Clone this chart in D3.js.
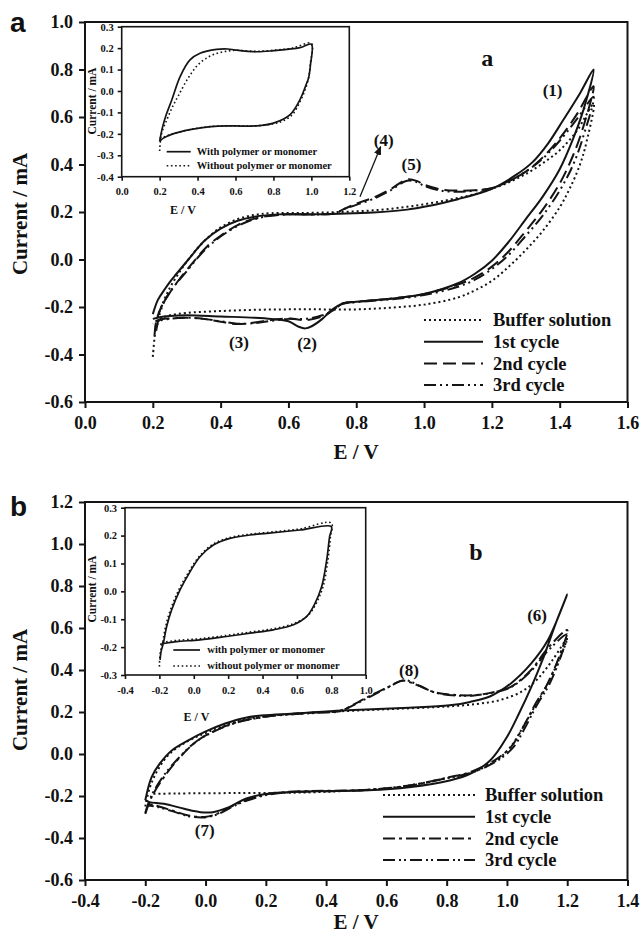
<!DOCTYPE html>
<html><head><meta charset="utf-8">
<script src="https://cdnjs.cloudflare.com/ajax/libs/d3/7.8.5/d3.min.js"></script>
<style>
body{margin:0;background:#fff;}
svg{display:block;}
text{font-family:"Liberation Serif","Times New Roman",serif;font-weight:bold;fill:#111;}
text.panel{font-family:"Liberation Sans",Arial,sans-serif;}
</style></head><body>
<svg id="chart" width="641" height="937"></svg>
<script>
// ---------- tick values ----------
const aXTicks = [0, 0.2, 0.4, 0.6, 0.8, 1.0, 1.2, 1.4, 1.6];
const aYTicks = [-0.6, -0.4, -0.2, 0, 0.2, 0.4, 0.6, 0.8, 1.0];
const bXTicks = [-0.4, -0.2, 0, 0.2, 0.4, 0.6, 0.8, 1.0, 1.2, 1.4];
const bYTicks = [-0.6, -0.4, -0.2, 0, 0.2, 0.4, 0.6, 0.8, 1.0, 1.2];
const iaXTicks = [0, 0.2, 0.4, 0.6, 0.8, 1.0, 1.2];
const iaYTicks = [-0.4, -0.3, -0.2, -0.1, 0, 0.1, 0.2, 0.3];
const ibXTicks = [-0.4, -0.2, 0, 0.2, 0.4, 0.6, 0.8, 1.0];
const ibYTicks = [-0.3, -0.2, -0.1, 0, 0.1, 0.2, 0.3];

// ---------- legend labels ----------
const mainLegend = ["Buffer solution", "1st cycle", "2nd cycle", "3rd cycle"];
const insetALegend = ["With polymer or monomer", "Without polymer or monomer"];
const insetBLegend = ["with polymer or monomer", "without polymer or monomer"];

// ---------- panel a : [E (V), I (mA)] ----------
const aBuffer = [[0.2,-0.41],[0.205,-0.33],[0.21,-0.27],[0.225,-0.2],[0.25,-0.12],[0.28,-0.05],[0.31,0.01],[0.35,0.075],[0.4,0.135],[0.45,0.17],[0.5,0.188],[0.55,0.195],[0.65,0.196],[0.75,0.2],[0.85,0.207],[0.95,0.222],[1.05,0.245],[1.15,0.275],[1.2,0.298],[1.25,0.325],[1.3,0.36],[1.35,0.405],[1.4,0.46],[1.45,0.54],[1.5,0.655],
  [1.48,0.5],[1.46,0.4],[1.43,0.3],[1.4,0.22],[1.35,0.12],[1.3,0.04],[1.25,-0.03],[1.2,-0.09],[1.15,-0.13],[1.1,-0.16],[1.0,-0.19],[0.9,-0.203],[0.8,-0.21],[0.7,-0.21],[0.6,-0.21],[0.5,-0.212],[0.4,-0.217],[0.3,-0.225],[0.25,-0.235],[0.22,-0.25],[0.2,-0.27]];
const aCycle1 = [[0.2,-0.23],[0.215,-0.17],[0.233,-0.13],[0.25,-0.095],[0.27,-0.06],[0.305,0.0],[0.353,0.08],[0.4,0.13],[0.45,0.163],[0.5,0.18],[0.57,0.19],[0.65,0.19],[0.75,0.193],[0.85,0.198],[0.95,0.21],[1.0,0.222],[1.1,0.254],[1.2,0.298],[1.27,0.355],[1.32,0.41],[1.365,0.487],[1.41,0.586],[1.46,0.7],[1.5,0.8],
  [1.47,0.63],[1.44,0.51],[1.4,0.38],[1.35,0.265],[1.3,0.17],[1.25,0.075],[1.2,-0.005],[1.15,-0.06],[1.1,-0.1],[1.0,-0.145],[0.9,-0.165],[0.8,-0.178],[0.76,-0.185],[0.73,-0.21],[0.7,-0.25],[0.67,-0.28],[0.65,-0.29],[0.63,-0.283],[0.6,-0.26],[0.55,-0.25],[0.5,-0.245],[0.4,-0.24],[0.3,-0.235],[0.25,-0.238],[0.22,-0.243],[0.2,-0.25]];
const aCycle2 = [[0.205,-0.32],[0.21,-0.26],[0.225,-0.2],[0.25,-0.14],[0.28,-0.08],[0.32,-0.01],[0.36,0.055],[0.4,0.1],[0.45,0.145],[0.5,0.172],[0.55,0.185],[0.6,0.19],[0.7,0.19],[0.74,0.195],[0.76,0.21],[0.8,0.235],[0.85,0.26],[0.9,0.295],[0.95,0.337],[0.98,0.33],[1.0,0.315],[1.05,0.295],[1.1,0.29],[1.15,0.292],[1.2,0.3],[1.25,0.33],[1.3,0.37],[1.35,0.43],[1.4,0.51],[1.45,0.61],[1.5,0.73],
  [1.47,0.56],[1.44,0.44],[1.4,0.32],[1.35,0.21],[1.3,0.12],[1.25,0.035],[1.2,-0.03],[1.15,-0.075],[1.1,-0.105],[1.0,-0.145],[0.9,-0.165],[0.8,-0.178],[0.76,-0.185],[0.73,-0.215],[0.7,-0.24],[0.65,-0.255],[0.6,-0.248],[0.55,-0.255],[0.5,-0.265],[0.45,-0.272],[0.4,-0.262],[0.35,-0.25],[0.3,-0.245],[0.25,-0.248],[0.22,-0.255],[0.205,-0.28]];
const aCycle3 = [[0.21,-0.3],[0.22,-0.23],[0.24,-0.16],[0.27,-0.1],[0.3,-0.05],[0.34,0.02],[0.38,0.075],[0.43,0.125],[0.48,0.16],[0.53,0.18],[0.6,0.19],[0.7,0.19],[0.74,0.195],[0.76,0.21],[0.8,0.23],[0.85,0.255],[0.9,0.29],[0.95,0.332],[0.98,0.325],[1.0,0.31],[1.05,0.29],[1.1,0.285],[1.15,0.29],[1.2,0.3],[1.25,0.33],[1.3,0.37],[1.35,0.425],[1.4,0.5],[1.45,0.59],[1.5,0.685],
  [1.47,0.52],[1.44,0.4],[1.4,0.29],[1.35,0.185],[1.3,0.1],[1.25,0.02],[1.2,-0.04],[1.15,-0.085],[1.1,-0.115],[1.0,-0.15],[0.9,-0.168],[0.8,-0.18],[0.76,-0.187],[0.73,-0.215],[0.7,-0.235],[0.65,-0.25],[0.6,-0.25],[0.55,-0.258],[0.5,-0.268],[0.45,-0.27],[0.4,-0.26],[0.35,-0.25],[0.3,-0.245],[0.25,-0.25],[0.22,-0.26],[0.21,-0.29]];

// inset a
const iaWith = [[0.2,-0.235],[0.215,-0.17],[0.235,-0.11],[0.264,-0.042],[0.308,0.067],[0.36,0.145],[0.413,0.176],[0.5,0.194],[0.56,0.196],[0.6,0.191],[0.712,0.183],[0.8,0.188],[0.94,0.202],[1.0,0.218],
  [0.995,0.12],[0.985,0.06],[0.975,0.036],[0.94,-0.04],[0.888,-0.11],[0.8,-0.15],[0.712,-0.163],[0.59,-0.163],[0.47,-0.166],[0.36,-0.18],[0.27,-0.2],[0.22,-0.22],[0.2,-0.235]];
const iaWithout = [[0.2,-0.28],[0.21,-0.2],[0.24,-0.13],[0.27,-0.07],[0.3,-0.02],[0.35,0.06],[0.4,0.12],[0.45,0.155],[0.5,0.175],[0.55,0.185],[0.6,0.19],[0.7,0.185],[0.8,0.19],[0.9,0.2],[1.0,0.222],
  [0.995,0.13],[0.985,0.06],[0.965,0.0],[0.94,-0.05],[0.9,-0.11],[0.85,-0.14],[0.8,-0.153],[0.7,-0.163],[0.6,-0.163],[0.47,-0.166],[0.36,-0.18],[0.27,-0.2],[0.22,-0.215],[0.2,-0.22]];

// ---------- panel b ----------
const bBuffer = [[-0.2,-0.25],[-0.185,-0.16],[-0.16,-0.08],[-0.12,0.0],[-0.06,0.06],[0.0,0.1],[0.07,0.14],[0.15,0.17],[0.25,0.187],[0.4,0.2],[0.6,0.213],[0.8,0.226],[0.9,0.238],[0.98,0.258],[1.05,0.298],[1.1,0.355],[1.15,0.445],[1.2,0.55],
  [1.17,0.44],[1.13,0.32],[1.09,0.22],[1.05,0.12],[1.01,0.03],[0.96,-0.035],[0.88,-0.09],[0.8,-0.115],[0.675,-0.15],[0.54,-0.17],[0.4,-0.18],[0.3,-0.184],[0.1,-0.186],[-0.1,-0.188],[-0.18,-0.19]];
const bCycle1 = [[-0.2,-0.22],[-0.179,-0.11],[-0.152,-0.046],[-0.111,0.018],[-0.057,0.065],[-0.003,0.105],[0.065,0.145],[0.133,0.173],[0.2,0.185],[0.336,0.196],[0.471,0.208],[0.675,0.22],[0.81,0.232],[0.878,0.248],[0.945,0.275],[1.013,0.336],[1.08,0.43],[1.135,0.54],[1.2,0.76],
  [1.162,0.622],[1.122,0.463],[1.081,0.32],[1.04,0.193],[1.0,0.081],[0.945,-0.03],[0.878,-0.094],[0.81,-0.126],[0.675,-0.158],[0.539,-0.173],[0.336,-0.178],[0.2,-0.19],[0.133,-0.213],[0.078,-0.253],[0.024,-0.277],[-0.017,-0.277],[-0.071,-0.261],[-0.138,-0.237],[-0.186,-0.229],[-0.2,-0.22]];
const bCycle2 = [[-0.2,-0.285],[-0.179,-0.205],[-0.138,-0.11],[-0.084,-0.014],[-0.03,0.06],[0.03,0.11],[0.1,0.15],[0.2,0.178],[0.3,0.192],[0.4,0.2],[0.444,0.205],[0.539,0.272],[0.607,0.32],[0.654,0.349],[0.702,0.328],[0.756,0.296],[0.837,0.28],[0.891,0.28],[0.945,0.291],[1.013,0.32],[1.08,0.4],[1.135,0.503],[1.2,0.59],
  [1.18,0.49],[1.135,0.336],[1.095,0.24],[1.054,0.129],[1.013,0.033],[0.959,-0.03],[0.878,-0.086],[0.81,-0.11],[0.675,-0.15],[0.539,-0.17],[0.268,-0.181],[0.187,-0.197],[0.105,-0.237],[0.038,-0.285],[-0.003,-0.3],[-0.057,-0.293],[-0.111,-0.269],[-0.166,-0.245],[-0.193,-0.237]];
const bCycle3 = [[-0.2,-0.28],[-0.18,-0.2],[-0.14,-0.105],[-0.09,-0.02],[-0.035,0.055],[0.025,0.105],[0.1,0.148],[0.2,0.177],[0.3,0.19],[0.4,0.198],[0.444,0.203],[0.539,0.268],[0.607,0.318],[0.66,0.352],[0.71,0.325],[0.76,0.293],[0.84,0.278],[0.891,0.279],[0.945,0.29],[1.013,0.318],[1.08,0.395],[1.135,0.49],[1.2,0.57],
  [1.18,0.47],[1.14,0.33],[1.1,0.235],[1.06,0.125],[1.02,0.03],[0.965,-0.035],[0.88,-0.09],[0.81,-0.112],[0.675,-0.152],[0.539,-0.172],[0.268,-0.183],[0.187,-0.2],[0.105,-0.24],[0.038,-0.288],[-0.003,-0.302],[-0.057,-0.296],[-0.111,-0.272],[-0.166,-0.25],[-0.195,-0.245]];

// inset b
const ibWith = [[-0.196,-0.246],[-0.19,-0.215],[-0.177,-0.186],[-0.158,-0.127],[-0.129,-0.067],[-0.08,0.005],[-0.022,0.07],[0.036,0.124],[0.114,0.166],[0.21,0.19],[0.327,0.202],[0.424,0.208],[0.618,0.22],[0.8,0.232],
  [0.79,0.196],[0.773,0.112],[0.744,0.017],[0.705,-0.043],[0.657,-0.09],[0.58,-0.12],[0.463,-0.138],[0.327,-0.15],[0.19,-0.162],[0.036,-0.174],[-0.1,-0.18],[-0.167,-0.186],[-0.196,-0.19]];
const ibWithout = [[-0.2,-0.27],[-0.195,-0.22],[-0.183,-0.19],[-0.165,-0.13],[-0.135,-0.065],[-0.085,0.008],[-0.025,0.074],[0.036,0.128],[0.114,0.17],[0.21,0.193],[0.327,0.205],[0.424,0.211],[0.618,0.224],[0.8,0.245],
  [0.795,0.196],[0.78,0.112],[0.752,0.017],[0.712,-0.043],[0.662,-0.088],[0.58,-0.116],[0.463,-0.134],[0.327,-0.146],[0.19,-0.158],[0.036,-0.17],[-0.1,-0.176],[-0.167,-0.182],[-0.19,-0.185]];

// ---------- drawing ----------
const svg = d3.select("#chart");
const INK = "#141414";
const fmt = v => (Math.abs(v) < 1e-9 ? 0 : v).toFixed(1);

svg.append("defs").append("marker")
  .attr("id", "arr").attr("viewBox", "0 0 10 10").attr("refX", 9).attr("refY", 5)
  .attr("markerWidth", 7).attr("markerHeight", 7).attr("orient", "auto")
  .append("path").attr("d", "M0,1 L10,5 L0,9 z").attr("fill", INK);

function drawSeries(g, x, y, list) {
  const line = d3.line().x(d => x(d[0])).y(d => y(d[1])).curve(d3.curveCatmullRom.alpha(0.5));
  list.forEach(s => {
    g.append("path").attr("d", line(s.data)).attr("fill", "none")
      .attr("stroke", INK).attr("stroke-width", s.w)
      .attr("stroke-dasharray", s.dash || null)
      .attr("stroke-linejoin", "round");
  });
}

function drawAxes(g, x, y, o) {
  const [x0, x1] = x.range(), [y0, y1] = y.range();
  const ax = g.append("g").attr("transform", `translate(0,${y0})`)
    .call(d3.axisBottom(x).tickValues(o.xt).tickFormat(fmt).tickSize(o.ts).tickSizeOuter(0).tickPadding(o.xpad));
  const ay = g.append("g").attr("transform", `translate(${x0},0)`)
    .call(d3.axisLeft(y).tickValues(o.yt).tickFormat(fmt).tickSize(o.ts).tickSizeOuter(0).tickPadding(o.ypad));
  [ax, ay].forEach(a => {
    a.select(".domain").remove();
    a.selectAll(".tick line").attr("stroke", INK).attr("stroke-width", o.fw);
    a.selectAll(".tick text").attr("font-size", o.fs).attr("fill", INK);
  });
  g.append("rect").attr("x", x0).attr("y", y1).attr("width", x1 - x0).attr("height", y0 - y1)
    .attr("fill", "none").attr("stroke", INK).attr("stroke-width", o.fw);
}

function legend(g, items, o) {
  items.forEach((it, i) => {
    const yy = o.y + i * o.dy;
    g.append("line").attr("x1", o.x1).attr("x2", o.x2).attr("y1", yy).attr("y2", yy)
      .attr("stroke", INK).attr("stroke-width", it.w).attr("stroke-dasharray", it.dash || null);
    g.append("text").attr("x", o.tx).attr("y", yy).attr("dy", "0.33em")
      .attr("font-size", o.fs).text(it.label);
  });
}

function label(g, x, y, pos, txt, fs) {
  g.append("text").attr("x", x(pos[0])).attr("y", y(pos[1])).attr("dy", "0.35em")
    .attr("text-anchor", "middle").attr("font-size", fs).text(txt);
}

const DOT = "2,3", DASH = "13,6";

// ===== Panel a =====
{
  const g = svg.append("g");
  const x = d3.scaleLinear().domain([0, 1.6]).range([85, 627.5]);
  const y = d3.scaleLinear().domain([-0.6, 1.0]).range([402, 22]);
  const styles = [
    { data: aBuffer, w: 2, dash: DOT },
    { data: aCycle1, w: 2, dash: null },
    { data: aCycle2, w: 2, dash: DASH },
    { data: aCycle3, w: 2, dash: "12,4,2,4,2,4" }
  ];
  drawSeries(g, x, y, styles);
  drawAxes(g, x, y, { xt: aXTicks, yt: aYTicks, ts: 6, xpad: 8, ypad: 6, fs: 18, fw: 2 });
  legend(g, styles.map((s, i) => ({ ...s, label: mainLegend[i] })), { x1: 424, x2: 483, tx: 493, y: 320, dy: 21.7, fs: 18.5 });
  g.append("text").attr("x", 356).attr("y", 459).attr("text-anchor", "middle").attr("font-size", 21).text("E / V");
  g.append("text").attr("transform", "translate(27,214) rotate(-90)").attr("text-anchor", "middle").attr("font-size", 21).text("Current / mA");
  g.append("text").attr("class", "panel").attr("x", 10).attr("y", 32).attr("font-size", 28).text("a");
  label(g, x, y, [1.186, 0.85], "a", 24);
  label(g, x, y, [1.379, 0.712], "(1)", 17);
  label(g, x, y, [0.655, -0.352], "(2)", 17);
  label(g, x, y, [0.454, -0.346], "(3)", 17);
  label(g, x, y, [0.881, 0.503], "(4)", 17);
  label(g, x, y, [0.963, 0.404], "(5)", 17);
  g.append("line").attr("x1", x(0.811)).attr("y1", y(0.264)).attr("x2", x(0.872)).attr("y2", y(0.475))
    .attr("stroke", INK).attr("stroke-width", 1.3).attr("marker-end", "url(#arr)");

  // inset a
  const ig = svg.append("g");
  const ix = d3.scaleLinear().domain([0, 1.2]).range([121.7, 349.3]);
  const iy = d3.scaleLinear().domain([-0.4, 0.3]).range([176.7, 26.7]);
  ig.append("rect").attr("x", 121.7).attr("y", 26.7).attr("width", 227.6).attr("height", 150).attr("fill", "#fff");
  const istyles = [{ data: iaWith, w: 1.7, dash: null }, { data: iaWithout, w: 1.6, dash: "1.6,2.6" }];
  drawSeries(ig, ix, iy, istyles);
  drawAxes(ig, ix, iy, { xt: iaXTicks, yt: iaYTicks, ts: 4, xpad: 7, ypad: 4, fs: 10.5, fw: 1.6 });
  legend(ig, istyles.map((s, i) => ({ ...s, label: insetALegend[i] })), { x1: 166.7, x2: 190.7, tx: 196.7, y: 151.7, dy: 14, fs: 10.5 });
  ig.append("text").attr("x", 183).attr("y", 214).attr("text-anchor", "middle").attr("font-size", 12).text("E / V");
  ig.append("text").attr("transform", "translate(96,101) rotate(-90)").attr("text-anchor", "middle").attr("font-size", 11.5).text("Current / mA");
}

// ===== Panel b =====
{
  const g = svg.append("g");
  const x = d3.scaleLinear().domain([-0.4, 1.4]).range([85, 627.5]);
  const y = d3.scaleLinear().domain([-0.6, 1.2]).range([880, 502]);
  const styles = [
    { data: bBuffer, w: 2, dash: DOT },
    { data: bCycle1, w: 2, dash: null },
    { data: bCycle2, w: 2, dash: "12,4,3,4" },
    { data: bCycle3, w: 2, dash: "12,4,2,3,2,4" }
  ];
  drawSeries(g, x, y, styles);
  drawAxes(g, x, y, { xt: bXTicks, yt: bYTicks, ts: 6, xpad: 8, ypad: 6, fs: 18, fw: 2 });
  legend(g, styles.map((s, i) => ({ ...s, label: mainLegend[i] })), { x1: 383, x2: 475, tx: 485, y: 795, dy: 21.7, fs: 18.5 });
  g.append("text").attr("x", 356).attr("y", 929).attr("text-anchor", "middle").attr("font-size", 21).text("E / V");
  g.append("text").attr("transform", "translate(27,690) rotate(-90)").attr("text-anchor", "middle").attr("font-size", 21).text("Current / mA");
  g.append("text").attr("class", "panel").attr("x", 10).attr("y", 516).attr("font-size", 28).text("b");
  label(g, x, y, [0.897, 0.962], "b", 24);
  label(g, x, y, [1.1, 0.662], "(6)", 17);
  label(g, x, y, [-0.003, -0.362], "(7)", 17);
  label(g, x, y, [0.675, 0.4], "(8)", 17);

  // inset b
  const ig = svg.append("g");
  const ix = d3.scaleLinear().domain([-0.4, 1.0]).range([125, 365.7]);
  const iy = d3.scaleLinear().domain([-0.3, 0.3]).range([675, 507.7]);
  ig.append("rect").attr("x", 125).attr("y", 507.7).attr("width", 240.7).attr("height", 167.3).attr("fill", "#fff");
  const istyles = [{ data: ibWith, w: 1.7, dash: null }, { data: ibWithout, w: 1.6, dash: "1.6,2.6" }];
  drawSeries(ig, ix, iy, istyles);
  drawAxes(ig, ix, iy, { xt: ibXTicks, yt: ibYTicks, ts: 4, xpad: 8, ypad: 4, fs: 10.5, fw: 1.6 });
  legend(ig, istyles.map((s, i) => ({ ...s, label: insetBLegend[i] })), { x1: 173.3, x2: 200, tx: 207.3, y: 650, dy: 16, fs: 10.5 });
  ig.append("text").attr("x", 196.5).attr("y", 721).attr("text-anchor", "middle").attr("font-size", 12).text("E / V");
  ig.append("text").attr("transform", "translate(96,589) rotate(-90)").attr("text-anchor", "middle").attr("font-size", 11.5).text("Current / mA");
}
</script>
</body></html>
